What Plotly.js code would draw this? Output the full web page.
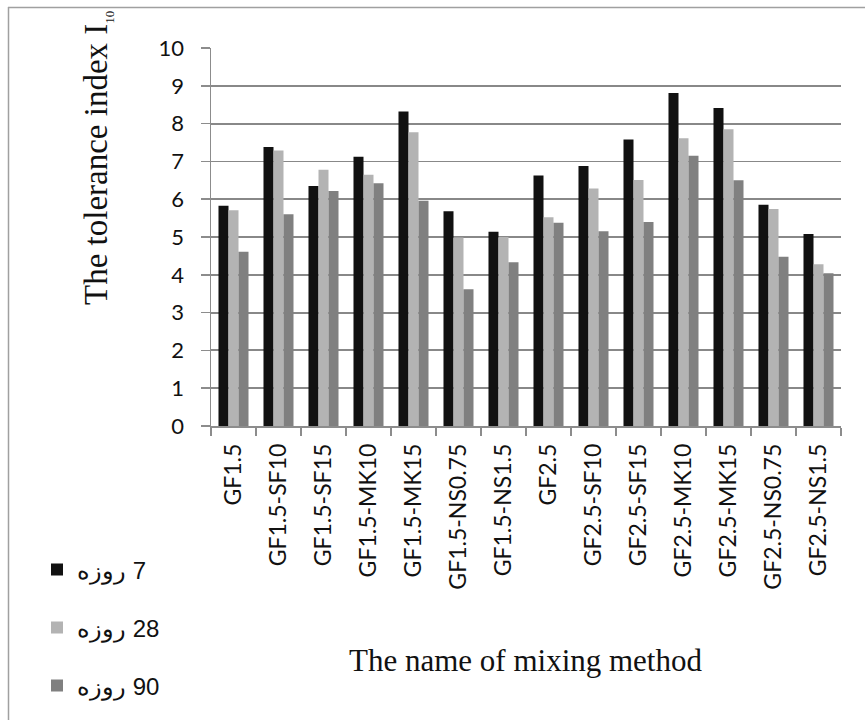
<!DOCTYPE html>
<html><head><meta charset="utf-8">
<script src="https://cdn.plot.ly/plotly-3.0.1.min.js"></script>
<style>html,body{margin:0;padding:0;background:#fff}</style>
</head><body>
<div id="chart" style="width:865px;height:720px"></div>
<script>
const categories = ["GF1.5","GF1.5-SF10","GF1.5-SF15","GF1.5-MK10","GF1.5-MK15","GF1.5-NS0.75","GF1.5-NS1.5","GF2.5","GF2.5-SF10","GF2.5-SF15","GF2.5-MK10","GF2.5-MK15","GF2.5-NS0.75","GF2.5-NS1.5"];
const day7  = [5.83,7.38,6.35,7.12,8.32,5.68,5.14,6.63,6.88,7.58,8.81,8.41,5.85,5.08];
const day28 = [5.71,7.29,6.78,6.65,7.77,4.99,5.00,5.52,6.28,6.51,7.61,7.85,5.74,4.28];
const day90 = [4.61,5.60,6.22,6.42,5.96,3.62,4.33,5.38,5.15,5.40,7.15,6.50,4.48,4.04];
const seriesNames = ["روزه\u200E 7","روزه\u200E 28","روزه\u200E 90"];
const yTicks = [0,1,2,3,4,5,6,7,8,9,10];

const colors = ["#111111","#b3b3b3","#808080"];
const data = [day7, day28, day90].map((vals, i) => ({
  type: "bar", x: categories, y: vals, name: seriesNames[i],
  marker: {color: colors[i], line: {width: 0}},
  legend: i === 0 ? "legend" : ("legend" + (i + 1))
}));

const L = 211, R = 24, T = 48, B = 294, W = 865, H = 720;
const pw = W - L - R, ph = H - T - B;
const px = v => (v - L) / pw;
const py = v => (H - B - v) / ph;

const legendBase = {
  xanchor: "left", yanchor: "middle", bgcolor: "rgba(0,0,0,0)",
  font: {family: "Liberation Sans, Arial, sans-serif", size: 24, color: "#111"},
  itemclick: false
};
const layout = {
  width: W, height: H,
  margin: {l: L, r: R, t: T, b: B, pad: 0},
  paper_bgcolor: "#fff", plot_bgcolor: "#fff",
  barmode: "group", bargap: 0.333, bargroupgap: 0,
  showlegend: true,
  legend:  Object.assign({}, legendBase, {x: px(37), y: py(570)}),
  legend2: Object.assign({}, legendBase, {x: px(37), y: py(628)}),
  legend3: Object.assign({}, legendBase, {x: px(37), y: py(686)}),
  xaxis: {
    type: "category", tickson: "boundaries", ticks: "outside", ticklen: 8,
    tickcolor: "#8c8c8c", tickwidth: 1.5,
    showline: true, linecolor: "#8c8c8c", linewidth: 1.5,
    showgrid: false, tickangle: -90, ticklabelstandoff: 7,
    tickfont: {family: "Lato, Calibri, sans-serif", size: 23, color: "#111"},
    automargin: false
  },
  yaxis: {
    range: [0, 10], tickvals: yTicks, ticktext: yTicks.map(String),
    ticks: "outside", ticklen: 9, tickcolor: "#8c8c8c", tickwidth: 1.5,
    showline: true, linecolor: "#8c8c8c", linewidth: 1.5,
    showgrid: true, gridcolor: "#888888", gridwidth: 1.8,
    zeroline: false, ticklabelstandoff: 12,
    tickfont: {family: "Lato, Calibri, sans-serif", size: 22, color: "#111"},
    automargin: false
  },
  annotations: [
    {text: "The tolerance index I<sub><span style=\"font-size:13px\">10</span></sub>", textangle: -90, xref: "paper", yref: "paper",
     x: px(97), y: py(158), xanchor: "center", yanchor: "middle", showarrow: false,
     font: {family: "Liberation Serif, DejaVu Serif, serif", size: 33, color: "#111"}},
    {text: "The name of mixing method", xref: "paper", yref: "paper",
     x: px(525), y: py(660), xanchor: "center", yanchor: "middle", showarrow: false,
     font: {family: "Liberation Serif, DejaVu Serif, serif", size: 31, color: "#111"}}
  ],
  shapes: [
    {type: "line", xref: "paper", yref: "paper", x0: px(8), x1: px(865), y0: py(7.5), y1: py(7.5),
     line: {color: "#a0a0a0", width: 1.5}},
    {type: "line", xref: "paper", yref: "paper", x0: px(8.5), x1: px(8.5), y0: py(7), y1: py(720),
     line: {color: "#a0a0a0", width: 1.5}}
  ]
};
Plotly.newPlot("chart", data, layout, {displayModeBar: false, staticPlot: true});
</script>
</body></html>
